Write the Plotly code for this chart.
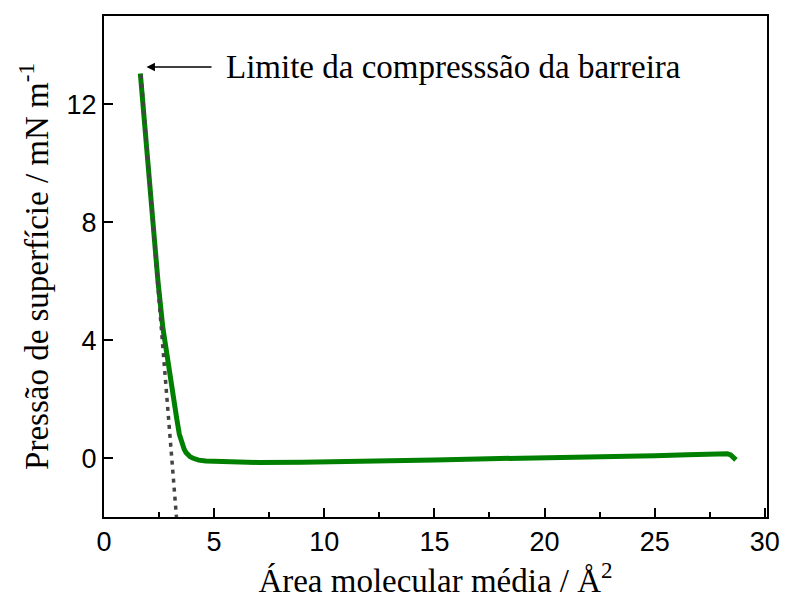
import plotly.graph_objects as go

# Isotherm (green curve)
area = [1.65, 1.8, 2.0, 2.22, 2.45, 2.67, 2.9, 3.12, 3.3, 3.42, 3.5, 3.57, 3.64, 3.72, 3.8, 3.9, 4.02, 4.15, 4.3, 4.62,
        5.5, 7.0, 9.0, 11.0, 13.0, 15.0, 17.0, 19.0, 21.0, 23.0, 25.0, 26.5, 27.5, 28.1, 28.3, 28.45, 28.58, 28.69]
pressure = [13.05, 11.7, 9.85, 7.83, 6.0, 4.43, 3.2, 2.17, 1.35, 0.81, 0.58, 0.42, 0.3, 0.19, 0.11, 0.05, 0.0, -0.04, -0.07, -0.1,
            -0.13, -0.15, -0.14, -0.13, -0.11, -0.07, -0.03, -0.01, 0.02, 0.05, 0.08, 0.11, 0.14, 0.16, 0.15, 0.11, 0.04, -0.06]

# Extrapolation (dotted line)
tangent_x = [1.68, 3.29]
tangent_y = [13.0, -2.0]

x_ticks = [0, 5, 10, 15, 20, 25, 30]
y_ticks = [0, 4, 8, 12]

annotation_text = "Limite da compresssão da barreira"

serif = "Liberation Serif, Times New Roman, serif"
sans = "Liberation Sans, Arial, sans-serif"

fig = go.Figure()
fig.add_trace(go.Scatter(x=area, y=pressure, mode="lines",
                         line=dict(color="#008000", width=5),
                         showlegend=False, hoverinfo="skip"))
fig.add_trace(go.Scatter(x=tangent_x, y=tangent_y, mode="lines",
                         line=dict(color="#444444", width=3.5, dash="4px,5px"),
                         showlegend=False, hoverinfo="skip"))

# arrow
fig.add_annotation(x=1.93, y=13.27, ax=4.95, ay=13.27, xref="x", yref="y", axref="x", ayref="y",
                   text="", showarrow=True, arrowhead=2, arrowsize=1.3, arrowwidth=1.3, arrowcolor="black")
# text
fig.add_annotation(x=5.45, y=13.27, xref="x", yref="y", text=annotation_text, showarrow=False,
                   xanchor="left", yanchor="middle", font=dict(family=serif, size=33, color="black"))

fig.update_layout(
    width=792, height=608,
    margin=dict(l=104, r=19, t=16, b=91),
    plot_bgcolor="white", paper_bgcolor="white",
    xaxis=dict(
        range=[0, 30.1], tickvals=x_ticks, ticks="inside", ticklen=9, tickwidth=2, tickcolor="black",
        showline=True, linecolor="black", linewidth=2, mirror=True, showgrid=False, zeroline=False,
        tickfont=dict(family=sans, size=27, color="black"),
        minor=dict(tickvals=[2.5, 7.5, 12.5, 17.5, 22.5, 27.5], ticks="inside", ticklen=5, tickwidth=1.5, tickcolor="black"),
        title=dict(text="Área molecular média / Å<sup>2</sup>", font=dict(family=serif, size=33, color="black"), standoff=12),
    ),
    yaxis=dict(
        range=[-2, 15], tickvals=y_ticks, ticks="inside", ticklen=9, tickwidth=2, tickcolor="black",
        showline=True, linecolor="black", linewidth=2, mirror=True, showgrid=False, zeroline=False,
        tickfont=dict(family=sans, size=27, color="black"),
        title=dict(text="Pressão de superfície / mN m<sup>-1</sup>", font=dict(family=serif, size=33, color="black"), standoff=8),
    ),
)

fig.write_html("out.html")
